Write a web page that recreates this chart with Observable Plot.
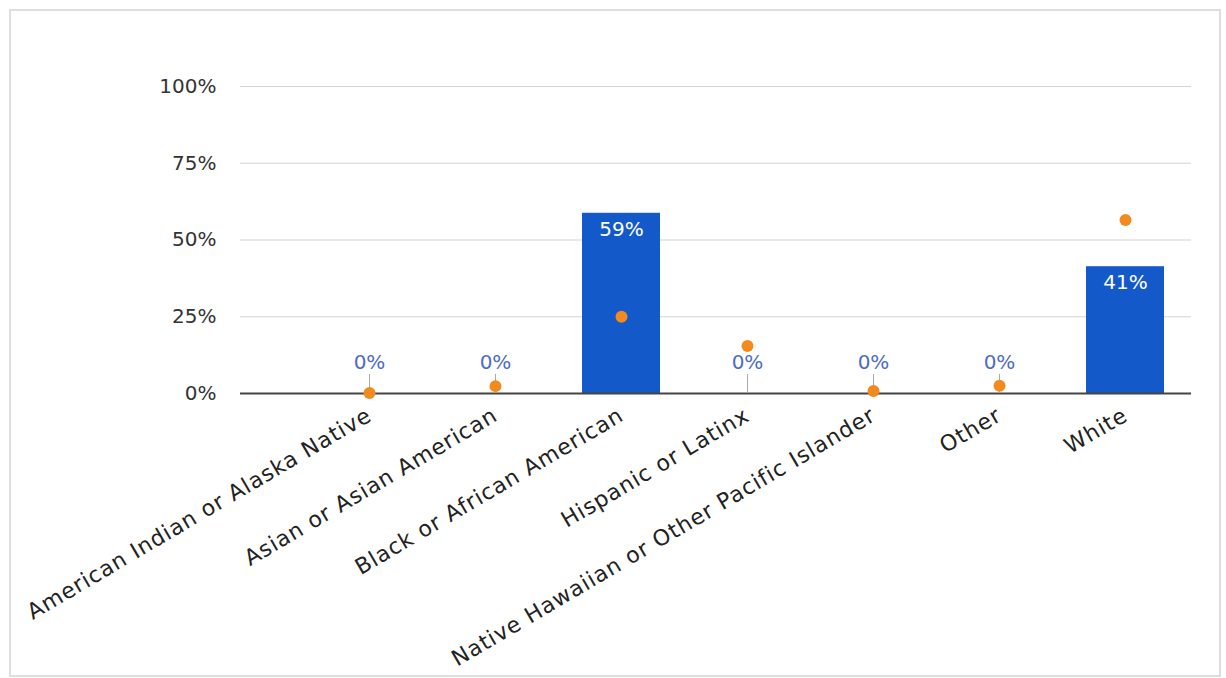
<!DOCTYPE html>
<html>
<head>
<meta charset="utf-8">
<script src="https://cdn.jsdelivr.net/npm/d3@7"></script>
<script src="https://cdn.jsdelivr.net/npm/@observablehq/plot@0.6"></script>
<style>
  html, body { margin: 0; padding: 0; background: #ffffff; }
  #wrap { position: relative; width: 1226px; height: 678px; overflow: hidden; }
  #frame { position: absolute; left: 9px; top: 9px; width: 1208px; height: 664px; border: 2px solid #dedede; box-sizing: content-box; }
  #chart { position: absolute; left: 0; top: 0; }
  #chart g[aria-label="x-axis tick label"] text { letter-spacing: 0.9px; }
</style>
</head>
<body>
<div id="wrap">
  <div id="frame"></div>
  <div id="chart"></div>
</div>
<script>
const categories = [
  "American Indian or Alaska Native",
  "Asian or Asian American",
  "Black or African American",
  "Hispanic or Latinx",
  "Native Hawaiian or Other Pacific Islander",
  "Other",
  "White"
];
const shares = [0, 0, 0.587, 0, 0, 0, 0.413];
const benchmark = [0.002, 0.024, 0.25, 0.155, 0.008, 0.025, 0.565];
const yTicks = [0, 0.25, 0.5, 0.75, 1];

const rows = categories.map((c, i) => ({category: c, share: shares[i], benchmark: benchmark[i]}));
const pct = d3.format(".0%");
const font = "DejaVu Sans, sans-serif";

const chart = Plot.plot({
  width: 1226,
  height: 678,
  marginLeft: 240,
  marginRight: 35,
  marginTop: 86,
  marginBottom: 285,
  style: {fontFamily: font, background: "transparent", color: "#333"},
  x: {domain: categories, paddingInner: 0.38, paddingOuter: 0.456, align: 0.77, label: null},
  y: {domain: [0, 1], label: null},
  marks: [
    Plot.ruleY(yTicks.filter(d => d > 0), {stroke: "#d4d4d4", strokeWidth: 1.2}),
    Plot.barY(rows, {x: "category", y: "share", fill: "#1459c9"}),
    Plot.ruleY([0], {stroke: "#444", strokeWidth: 2}),
    Plot.ruleX(rows.filter(d => d.share === 0), {x: "category", y1: "share", y2: "share", insetTop: -19, stroke: "#a8a8a8", strokeWidth: 1}),
    Plot.dot(rows, {x: "category", y: "benchmark", r: 6, fill: "#f28a1e", stroke: null}),
    Plot.text(rows.filter(d => d.share === 0), {x: "category", y: "share", text: d => pct(d.share), dy: -31, fill: "#4d6cc4", fontSize: 20}),
    Plot.text(rows.filter(d => d.share > 0), {x: "category", y: "share", text: d => pct(d.share), dy: 16, fill: "#ffffff", fontSize: 20}),
    Plot.axisY({ticks: yTicks, tickFormat: pct, tickSize: 0, tickPadding: 24, fontSize: 20, fill: "#333"}),
    Plot.axisX({tickSize: 0, tickPadding: 20, tickRotate: -30.5, fontSize: 22, fill: "#222"})
  ]
});
document.getElementById("chart").appendChild(chart);
</script>
</body>
</html>
